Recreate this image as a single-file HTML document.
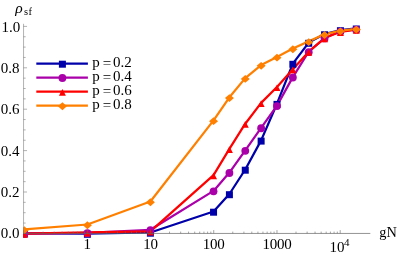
<!DOCTYPE html>
<html><head><meta charset="utf-8"><title>chart</title>
<style>html,body{margin:0;padding:0;background:#fff;overflow:hidden}body{width:399px;height:255px;font-family:"Liberation Serif",serif}</style></head>
<body>
<svg width="399" height="255" viewBox="0 0 399 255" style="display:block">
<defs><clipPath id="pc"><rect x="23.2" y="0" width="399" height="255"/></clipPath></defs>
<rect width="399" height="255" fill="#fff"/>
<g clip-path="url(#pc)">
<polyline points="24.30,233.30 87.40,233.60 150.40,232.50 213.55,211.50 229.41,194.00 245.27,169.50 261.13,140.40 276.99,103.70 292.85,63.60 308.71,42.60 324.57,34.05 340.43,30.00 356.29,28.30" fill="none" stroke="#0000AA" stroke-width="2.25" stroke-linejoin="round"/>
<polyline points="24.30,233.60 87.40,232.80 150.40,229.80 213.55,190.90 229.41,172.60 245.27,150.45 261.13,127.85 276.99,105.65 292.85,77.10 308.71,51.75 324.57,38.05 340.43,31.20 356.29,29.30" fill="none" stroke="#AA00AA" stroke-width="2.25" stroke-linejoin="round"/>
<polyline points="24.30,233.60 87.40,232.30 150.40,231.40 213.55,175.10 229.41,148.80 245.27,123.70 261.13,102.90 276.99,87.00 292.85,69.20 308.71,51.70 324.57,38.05 340.43,31.80 356.29,29.70" fill="none" stroke="#FF0000" stroke-width="2.25" stroke-linejoin="round"/>
<polyline points="24.30,229.40 87.40,224.50 150.40,201.50 213.55,120.40 229.41,97.30 245.27,78.15 261.13,65.05 276.99,56.90 292.85,48.50 308.71,41.40 324.57,34.25 340.43,30.60 356.29,28.80" fill="none" stroke="#FF8000" stroke-width="2.25" stroke-linejoin="round"/>
<rect x="20.80" y="230.50" width="7.0" height="7.0" fill="#0000AA"/>
<rect x="83.90" y="230.80" width="7.0" height="7.0" fill="#0000AA"/>
<rect x="146.90" y="229.70" width="7.0" height="7.0" fill="#0000AA"/>
<rect x="210.05" y="208.70" width="7.0" height="7.0" fill="#0000AA"/>
<rect x="225.91" y="191.20" width="7.0" height="7.0" fill="#0000AA"/>
<rect x="241.77" y="166.70" width="7.0" height="7.0" fill="#0000AA"/>
<rect x="257.63" y="137.60" width="7.0" height="7.0" fill="#0000AA"/>
<rect x="273.49" y="100.90" width="7.0" height="7.0" fill="#0000AA"/>
<rect x="289.35" y="60.80" width="7.0" height="7.0" fill="#0000AA"/>
<rect x="305.21" y="39.80" width="7.0" height="7.0" fill="#0000AA"/>
<rect x="321.07" y="31.25" width="7.0" height="7.0" fill="#0000AA"/>
<rect x="336.93" y="27.20" width="7.0" height="7.0" fill="#0000AA"/>
<rect x="352.79" y="25.50" width="7.0" height="7.0" fill="#0000AA"/>
<circle cx="24.30" cy="234.00" r="3.9" fill="#AA00AA"/>
<circle cx="87.40" cy="233.20" r="3.9" fill="#AA00AA"/>
<circle cx="150.40" cy="230.20" r="3.9" fill="#AA00AA"/>
<circle cx="213.55" cy="191.30" r="3.9" fill="#AA00AA"/>
<circle cx="229.41" cy="173.00" r="3.9" fill="#AA00AA"/>
<circle cx="245.27" cy="150.85" r="3.9" fill="#AA00AA"/>
<circle cx="261.13" cy="128.25" r="3.9" fill="#AA00AA"/>
<circle cx="276.99" cy="106.05" r="3.9" fill="#AA00AA"/>
<circle cx="292.85" cy="77.50" r="3.9" fill="#AA00AA"/>
<circle cx="308.71" cy="52.15" r="3.9" fill="#AA00AA"/>
<circle cx="324.57" cy="38.45" r="3.9" fill="#AA00AA"/>
<circle cx="340.43" cy="31.60" r="3.9" fill="#AA00AA"/>
<circle cx="356.29" cy="29.70" r="3.9" fill="#AA00AA"/>
<path d="M24.30 231.00 L27.80 237.70 L20.80 237.70 Z" fill="#FF0000"/>
<path d="M87.40 229.70 L90.90 236.40 L83.90 236.40 Z" fill="#FF0000"/>
<path d="M150.40 228.80 L153.90 235.50 L146.90 235.50 Z" fill="#FF0000"/>
<path d="M213.55 172.50 L217.05 179.20 L210.05 179.20 Z" fill="#FF0000"/>
<path d="M229.41 146.20 L232.91 152.90 L225.91 152.90 Z" fill="#FF0000"/>
<path d="M245.27 121.10 L248.77 127.80 L241.77 127.80 Z" fill="#FF0000"/>
<path d="M261.13 100.30 L264.63 107.00 L257.63 107.00 Z" fill="#FF0000"/>
<path d="M276.99 84.40 L280.49 91.10 L273.49 91.10 Z" fill="#FF0000"/>
<path d="M292.85 66.60 L296.35 73.30 L289.35 73.30 Z" fill="#FF0000"/>
<path d="M308.71 49.10 L312.21 55.80 L305.21 55.80 Z" fill="#FF0000"/>
<path d="M324.57 35.45 L328.07 42.15 L321.07 42.15 Z" fill="#FF0000"/>
<path d="M340.43 29.20 L343.93 35.90 L336.93 35.90 Z" fill="#FF0000"/>
<path d="M356.29 27.10 L359.79 33.80 L352.79 33.80 Z" fill="#FF0000"/>
<path d="M24.30 226.25 L28.80 230.15 L24.30 234.05 L19.80 230.15 Z" fill="#FF8000"/>
<path d="M87.40 221.35 L91.90 225.25 L87.40 229.15 L82.90 225.25 Z" fill="#FF8000"/>
<path d="M150.40 198.35 L154.90 202.25 L150.40 206.15 L145.90 202.25 Z" fill="#FF8000"/>
<path d="M213.55 117.25 L218.05 121.15 L213.55 125.05 L209.05 121.15 Z" fill="#FF8000"/>
<path d="M229.41 94.15 L233.91 98.05 L229.41 101.95 L224.91 98.05 Z" fill="#FF8000"/>
<path d="M245.27 75.00 L249.77 78.90 L245.27 82.80 L240.77 78.90 Z" fill="#FF8000"/>
<path d="M261.13 61.90 L265.63 65.80 L261.13 69.70 L256.63 65.80 Z" fill="#FF8000"/>
<path d="M276.99 53.75 L281.49 57.65 L276.99 61.55 L272.49 57.65 Z" fill="#FF8000"/>
<path d="M292.85 45.35 L297.35 49.25 L292.85 53.15 L288.35 49.25 Z" fill="#FF8000"/>
<path d="M308.71 38.25 L313.21 42.15 L308.71 46.05 L304.21 42.15 Z" fill="#FF8000"/>
<path d="M324.57 31.10 L329.07 35.00 L324.57 38.90 L320.07 35.00 Z" fill="#FF8000"/>
<path d="M340.43 27.45 L344.93 31.35 L340.43 35.25 L335.93 31.35 Z" fill="#FF8000"/>
<path d="M356.29 25.65 L360.79 29.55 L356.29 33.45 L351.79 29.55 Z" fill="#FF8000"/>
</g>
<g stroke="#666" stroke-width="0.5" fill="none">
<path d="M23.55 23.8 V233.65"/>
<path d="M23.3 233.45 H370.3" stroke-width="0.7"/>
<path d="M23.55 223.05 h2.1"/>
<path d="M23.55 212.70 h2.1"/>
<path d="M23.55 202.35 h2.1"/>
<path d="M23.55 192.00 h3.5"/>
<path d="M23.55 181.65 h2.1"/>
<path d="M23.55 171.30 h2.1"/>
<path d="M23.55 160.95 h2.1"/>
<path d="M23.55 150.60 h3.5"/>
<path d="M23.55 140.25 h2.1"/>
<path d="M23.55 129.90 h2.1"/>
<path d="M23.55 119.55 h2.1"/>
<path d="M23.55 109.20 h3.5"/>
<path d="M23.55 98.85 h2.1"/>
<path d="M23.55 88.50 h2.1"/>
<path d="M23.55 78.15 h2.1"/>
<path d="M23.55 67.80 h3.5"/>
<path d="M23.55 57.45 h2.1"/>
<path d="M23.55 47.10 h2.1"/>
<path d="M23.55 36.75 h2.1"/>
<path d="M23.55 26.40 h3.5"/>
<path d="M43.05 233.4 v-1.8" stroke-width="0.6"/>
<path d="M54.18 233.4 v-1.8" stroke-width="0.6"/>
<path d="M62.08 233.4 v-1.8" stroke-width="0.6"/>
<path d="M68.21 233.4 v-1.8" stroke-width="0.6"/>
<path d="M73.22 233.4 v-1.8" stroke-width="0.6"/>
<path d="M77.45 233.4 v-1.8" stroke-width="0.6"/>
<path d="M81.12 233.4 v-1.8" stroke-width="0.6"/>
<path d="M84.36 233.4 v-1.8" stroke-width="0.6"/>
<path d="M87.25 233.4 v-3.3" stroke-width="0.6"/>
<path d="M106.29 233.4 v-1.8" stroke-width="0.6"/>
<path d="M117.42 233.4 v-1.8" stroke-width="0.6"/>
<path d="M125.32 233.4 v-1.8" stroke-width="0.6"/>
<path d="M131.45 233.4 v-1.8" stroke-width="0.6"/>
<path d="M136.46 233.4 v-1.8" stroke-width="0.6"/>
<path d="M140.69 233.4 v-1.8" stroke-width="0.6"/>
<path d="M144.36 233.4 v-1.8" stroke-width="0.6"/>
<path d="M147.60 233.4 v-1.8" stroke-width="0.6"/>
<path d="M150.49 233.4 v-3.3" stroke-width="0.6"/>
<path d="M169.53 233.4 v-1.8" stroke-width="0.6"/>
<path d="M180.66 233.4 v-1.8" stroke-width="0.6"/>
<path d="M188.56 233.4 v-1.8" stroke-width="0.6"/>
<path d="M194.69 233.4 v-1.8" stroke-width="0.6"/>
<path d="M199.70 233.4 v-1.8" stroke-width="0.6"/>
<path d="M203.93 233.4 v-1.8" stroke-width="0.6"/>
<path d="M207.60 233.4 v-1.8" stroke-width="0.6"/>
<path d="M210.84 233.4 v-1.8" stroke-width="0.6"/>
<path d="M213.73 233.4 v-3.3" stroke-width="0.6"/>
<path d="M232.77 233.4 v-1.8" stroke-width="0.6"/>
<path d="M243.90 233.4 v-1.8" stroke-width="0.6"/>
<path d="M251.80 233.4 v-1.8" stroke-width="0.6"/>
<path d="M257.93 233.4 v-1.8" stroke-width="0.6"/>
<path d="M262.94 233.4 v-1.8" stroke-width="0.6"/>
<path d="M267.17 233.4 v-1.8" stroke-width="0.6"/>
<path d="M270.84 233.4 v-1.8" stroke-width="0.6"/>
<path d="M274.08 233.4 v-1.8" stroke-width="0.6"/>
<path d="M276.97 233.4 v-3.3" stroke-width="0.6"/>
<path d="M296.01 233.4 v-1.8" stroke-width="0.6"/>
<path d="M307.14 233.4 v-1.8" stroke-width="0.6"/>
<path d="M315.04 233.4 v-1.8" stroke-width="0.6"/>
<path d="M321.17 233.4 v-1.8" stroke-width="0.6"/>
<path d="M326.18 233.4 v-1.8" stroke-width="0.6"/>
<path d="M330.41 233.4 v-1.8" stroke-width="0.6"/>
<path d="M334.08 233.4 v-1.8" stroke-width="0.6"/>
<path d="M337.32 233.4 v-1.8" stroke-width="0.6"/>
<path d="M340.21 233.4 v-3.3" stroke-width="0.6"/>
</g>
<path d="M36.3 63.5 H87.9" stroke="#0000AA" stroke-width="2.25"/>
<rect x="58.90" y="60.70" width="7.0" height="7.0" fill="#0000AA"/>
<path d="M36.3 77.6 H87.9" stroke="#AA00AA" stroke-width="2.25"/>
<circle cx="62.40" cy="78.00" r="3.9" fill="#AA00AA"/>
<path d="M36.3 91.6 H87.9" stroke="#FF0000" stroke-width="2.25"/>
<path d="M62.40 89.00 L65.90 95.70 L58.90 95.70 Z" fill="#FF0000"/>
<path d="M36.3 105.5 H87.9" stroke="#FF8000" stroke-width="2.25"/>
<path d="M62.40 102.35 L66.90 106.25 L62.40 110.15 L57.90 106.25 Z" fill="#FF8000"/>
<g style="filter:grayscale(1)">
<text font-family="Liberation Serif, serif" font-size="15" fill="#000" x="92.3" y="67.30">p</text>
<text font-family="Liberation Serif, serif" font-size="15" fill="#000" x="102.8" y="68.30">=</text>
<text font-family="Liberation Serif, serif" font-size="15" fill="#000" x="113.0" y="67.30">0.2</text>
<text font-family="Liberation Serif, serif" font-size="15" fill="#000" x="92.3" y="81.40">p</text>
<text font-family="Liberation Serif, serif" font-size="15" fill="#000" x="102.8" y="82.40">=</text>
<text font-family="Liberation Serif, serif" font-size="15" fill="#000" x="113.0" y="81.40">0.4</text>
<text font-family="Liberation Serif, serif" font-size="15" fill="#000" x="92.3" y="95.40">p</text>
<text font-family="Liberation Serif, serif" font-size="15" fill="#000" x="102.8" y="96.40">=</text>
<text font-family="Liberation Serif, serif" font-size="15" fill="#000" x="113.0" y="95.40">0.6</text>
<text font-family="Liberation Serif, serif" font-size="15" fill="#000" x="92.3" y="109.30">p</text>
<text font-family="Liberation Serif, serif" font-size="15" fill="#000" x="102.8" y="110.30">=</text>
<text font-family="Liberation Serif, serif" font-size="15" fill="#000" x="113.0" y="109.30">0.8</text>
<text font-family="Liberation Serif, serif" font-size="15" fill="#000" x="19.6" y="238.40" text-anchor="end">0.0</text>
<text font-family="Liberation Serif, serif" font-size="15" fill="#000" x="19.6" y="197.04" text-anchor="end">0.2</text>
<text font-family="Liberation Serif, serif" font-size="15" fill="#000" x="19.6" y="155.68" text-anchor="end">0.4</text>
<text font-family="Liberation Serif, serif" font-size="15" fill="#000" x="19.6" y="114.32" text-anchor="end">0.6</text>
<text font-family="Liberation Serif, serif" font-size="15" fill="#000" x="19.6" y="72.96" text-anchor="end">0.8</text>
<text font-family="Liberation Serif, serif" font-size="15" fill="#000" x="20.2" y="31.60" text-anchor="end">1.0</text>
<text font-family="Liberation Serif, serif" font-size="15" fill="#000" x="87.20" y="249.4" text-anchor="middle" letter-spacing="-0.25">1</text>
<text font-family="Liberation Serif, serif" font-size="15" fill="#000" x="150.44" y="249.4" text-anchor="middle" letter-spacing="-0.25">10</text>
<text font-family="Liberation Serif, serif" font-size="15" fill="#000" x="213.68" y="249.4" text-anchor="middle" letter-spacing="-0.25">100</text>
<text font-family="Liberation Serif, serif" font-size="15" fill="#000" x="276.92" y="249.4" text-anchor="middle" letter-spacing="-0.25">1000</text>
<text font-family="Liberation Serif, serif" font-size="15" fill="#000" x="329.5" y="252.1">10</text>
<text font-family="Liberation Serif, serif" font-size="11" fill="#000" x="343.9" y="246.0">4</text>
<text font-family="Liberation Serif, serif" font-size="14.3" fill="#000" x="379.3" y="236.8">gN</text>
<text font-family="Liberation Serif, serif" font-style="italic" font-size="15.5" fill="#000" x="15.3" y="12.6">ρ</text>
<text font-family="Liberation Serif, serif" font-size="10.5" fill="#000" x="23.9" y="14.6" letter-spacing="0.5">sf</text>
</g>
</svg>
</body></html>
